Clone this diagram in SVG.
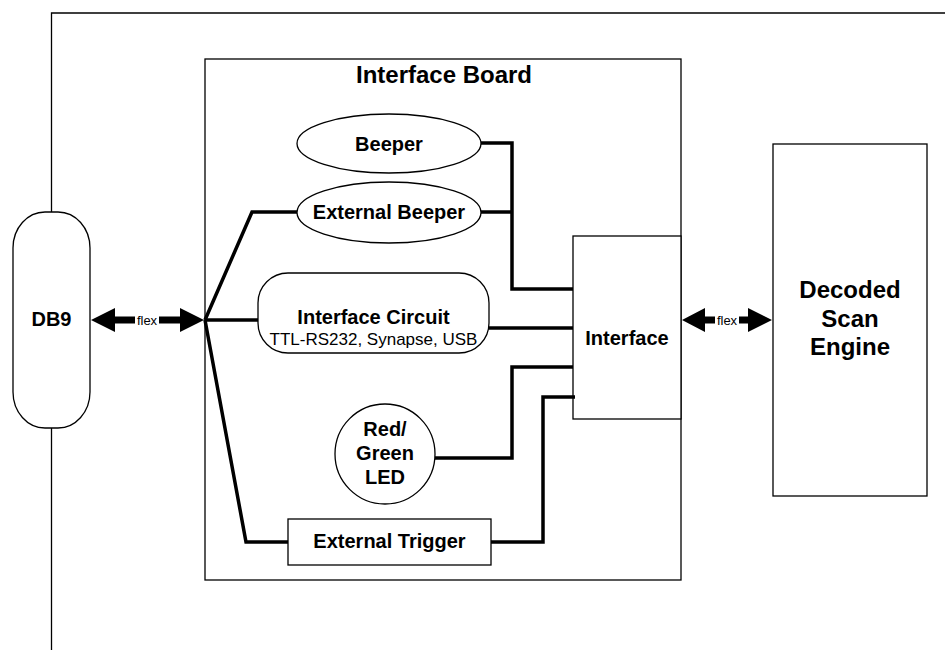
<svg xmlns="http://www.w3.org/2000/svg" width="945" height="650" viewBox="0 0 945 650">
<style>
.box{fill:#fff;stroke:#000;stroke-width:1.3}
.frame{fill:none;stroke:#000;stroke-width:1.3}
.wire{fill:none;stroke:#000;stroke-width:3.5;stroke-linejoin:miter}
.b{font-family:"Liberation Sans",Arial,sans-serif;font-weight:bold;font-size:20px;fill:#000;text-anchor:middle}
.r{font-family:"Liberation Sans",Arial,sans-serif;font-size:17px;fill:#000;text-anchor:middle}
.flex{font-family:"Liberation Sans",Arial,sans-serif;font-size:13px;fill:#000;text-anchor:middle}
.arrow{fill:#000;stroke:none}
</style>
<rect width="945" height="650" fill="#fff"/>
<g id="frame">
<path class="frame" d="M51.5,212 V13 H945"/>
<path class="frame" d="M51.5,428 V650"/>
</g>
<g id="interface-board">
<rect class="box" x="205" y="59" width="476" height="521"/>
<text class="b" x="444" y="83" style="font-size:24px">Interface Board</text>
</g>
<g id="db9">
<rect class="box" x="13" y="212" width="77" height="216" rx="32" ry="36"/>
<text class="b" x="51.5" y="326">DB9</text>
</g>
<g id="beeper">
<ellipse class="box" cx="389" cy="143.5" rx="92" ry="29.5"/>
<text class="b" x="389" y="151">Beeper</text>
</g>
<g id="external-beeper">
<ellipse class="box" cx="389" cy="212.5" rx="92" ry="30.5"/>
<text class="b" x="389" y="219">External Beeper</text>
</g>
<g id="interface-circuit">
<rect class="box" x="258" y="273" width="231" height="80" rx="30" ry="30"/>
<text class="b" x="373.5" y="324">Interface Circuit</text>
<text class="r" x="373.5" y="345">TTL-RS232, Synapse, USB</text>
</g>
<g id="led">
<circle class="box" cx="385" cy="454" r="50"/>
<text class="b" x="385" y="436">Red/</text>
<text class="b" x="385" y="460">Green</text>
<text class="b" x="385" y="484">LED</text>
</g>
<g id="external-trigger">
<rect class="box" x="288" y="519" width="203" height="46"/>
<text class="b" x="389.5" y="548">External Trigger</text>
</g>
<g id="interface">
<rect class="box" x="573" y="236" width="108" height="183"/>
<text class="b" x="627" y="345">Interface</text>
</g>
<g id="decoded-scan-engine">
<rect class="box" x="773" y="144" width="154" height="352"/>
<text class="b" x="850" y="298" style="font-size:24px">Decoded</text>
<text class="b" x="850" y="327" style="font-size:24px">Scan</text>
<text class="b" x="850" y="355" style="font-size:24px">Engine</text>
</g>
<g id="connectors">
<path class="wire" d="M205,320 L252,212 L297,212"/>
<path class="wire" d="M205,320 L258,320"/>
<path class="wire" d="M205,320 L246,542 L288,542"/>
<path class="wire" d="M481,143 L512,143 L512,289 L573,289"/>
<path class="wire" d="M481,212 L512,212"/>
<path class="wire" d="M489,328 L573,328"/>
<path class="wire" d="M435,458 L512,458 L512,367 L573,367"/>
<path class="wire" d="M491,542 L543,542 L543,397 L575,397"/>
<g id="flex-left">
<polygon class="arrow" points="91,320 115,308 115,316.5 180,316.5 180,308 204,320 180,332 180,323.5 115,323.5 115,332"/>
<rect x="135" y="312" width="24" height="15" fill="#fff"/>
<text class="flex" x="147" y="324.5">flex</text>
</g>
<g id="flex-right">
<polygon class="arrow" points="682,320 705,308 705,316.5 748,316.5 748,308 772,320 748,332 748,323.5 705,323.5 705,332"/>
<rect x="715" y="312" width="24" height="15" fill="#fff"/>
<text class="flex" x="727" y="324.5">flex</text>
</g>
</g>
</svg>
